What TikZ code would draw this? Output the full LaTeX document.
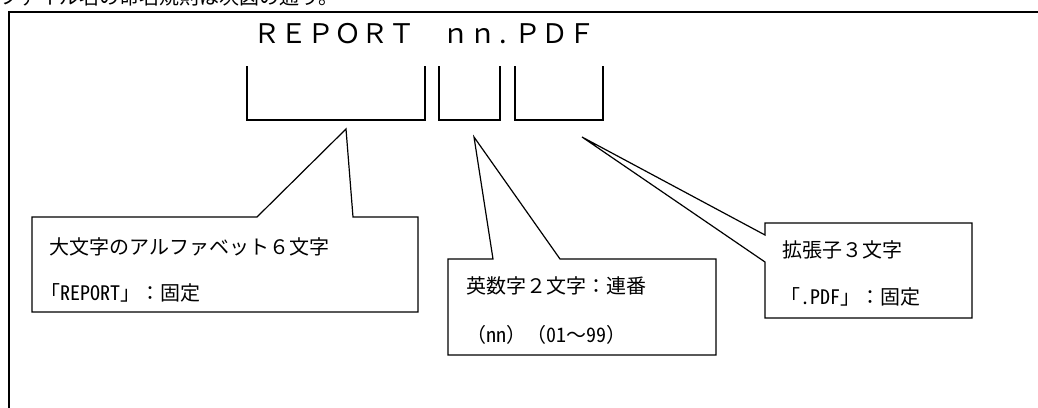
\documentclass[tikz,border=0pt]{standalone}
\usepackage{fontspec}
\setmainfont{Noto Sans CJK JP}
\newfontfamily\hwfont{Noto Sans CJK JP}[RawFeature=+hwid]
\begin{document}
\begin{tikzpicture}[x=1pt,y=-1pt]
        \tikzstyle{label}=[inner sep=0pt,font=\fontsize{20}{24}\selectfont]
        \tikzstyle{callout}=[draw=black,line width=1.2pt,fill=white,line join=miter]
        \tikzstyle{bracket}=[draw=black,line width=1.8pt]
        \useasboundingbox (0,0) rectangle (1038,407);
        \clip (0,0) rectangle (1038,407);
        % cut-off caption above the frame
        \node [label,anchor=base west] (cap) at (-1,4) {ファイル名の命名規則は次図の通り。};
        \draw [line width=2pt] (9,420) -- (9,12) -- (1050,12);
        % file name and its parts
        \node [inner sep=0pt,anchor=base west,font=\fontsize{27}{30}\selectfont] (name) at (253,43) {ＲＥＰＯＲＴ　ｎｎ{\hwfont .}\hspace{5pt}ＰＤＦ};
        \path[bracket] (247,66) -- (247,120) -- (425,120) -- (425,66);
        \path[bracket] (439,66) -- (439,120) -- (500,120) -- (500,66);
        \path[bracket] (515,66) -- (515,120) -- (603,120) -- (603,66);
        % callouts
        \path[callout] (32,217) -- (257,217) -- (346,129) -- (353,217) -- (418,217) -- (418,312) -- (32,312) -- cycle;
        \path[callout] (448,259) -- (493,259) -- (474,137) -- (560,259) -- (716,259) -- (716,355) -- (448,355) -- cycle;
        \path[callout] (765,223) -- (972,223) -- (972,318) -- (765,318) -- (765,262) -- (582,137) -- (765,235) -- cycle;
        \node [label,anchor=west] (a1) at (49,247) {大文字のアルファベット６文字};
        \node [label,anchor=west] (a2) at (40,293) {「{\hwfont REPORT}」：固定};
        \node [label,anchor=west] (b1) at (466,286) {英数字２文字：連番};
        \node [label,anchor=west] (b2) at (466,335) {（{\hwfont nn}）（{\hwfont 01}～{\hwfont 99}）};
        \node [label,anchor=west] (c1) at (782,250) {拡張子３文字};
        \node [label,anchor=west] (c2) at (780,297) {「{\hwfont .PDF}」：固定};
\end{tikzpicture}
\end{document}
